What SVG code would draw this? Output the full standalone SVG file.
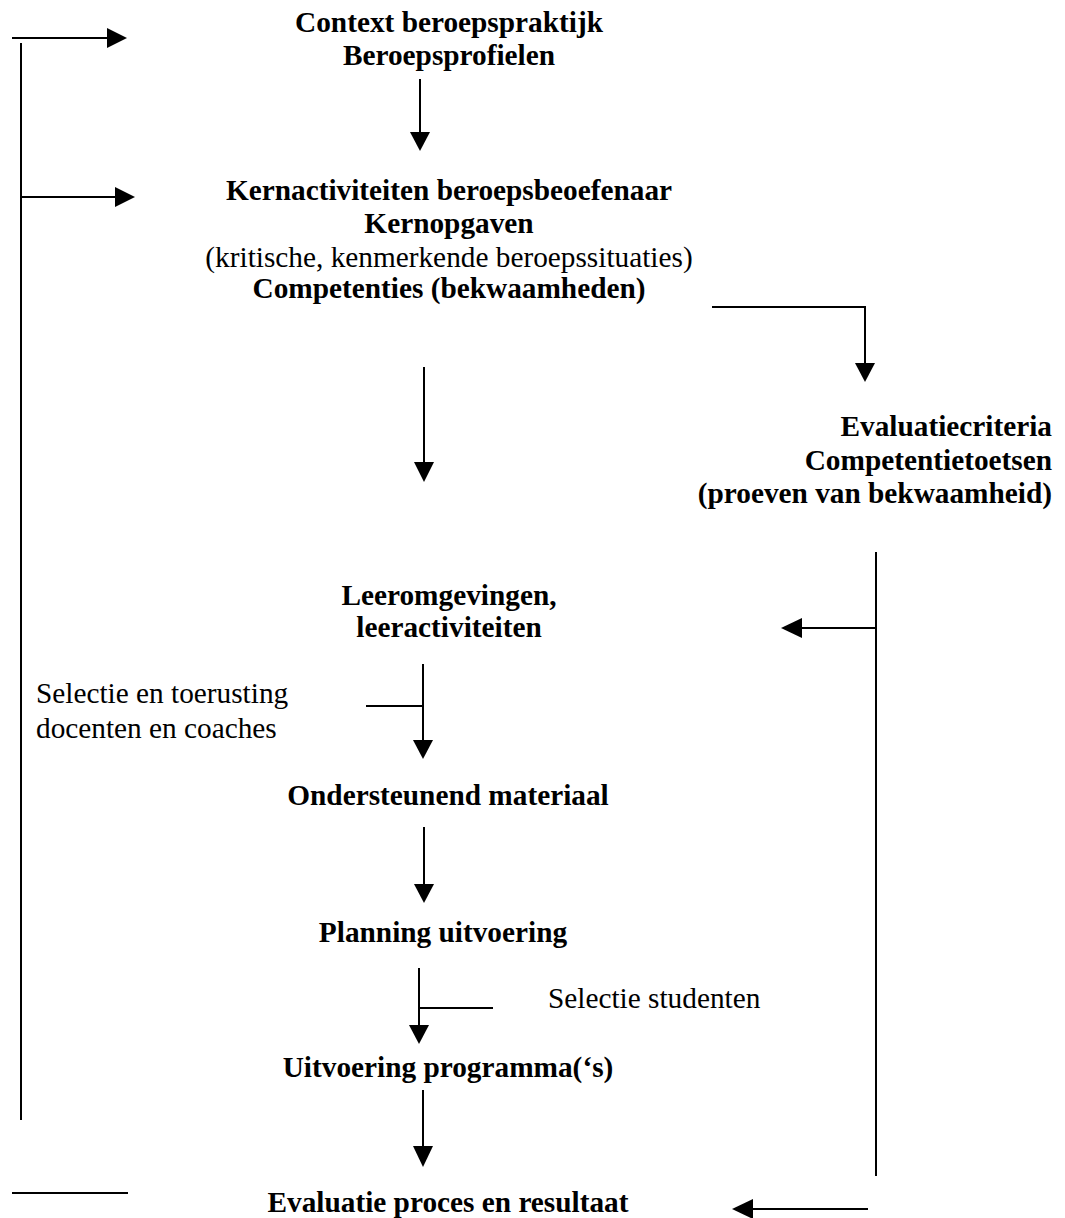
<svg xmlns="http://www.w3.org/2000/svg" width="1065" height="1218" viewBox="0 0 1065 1218">
<style>
.b{font-family:"Liberation Serif","Times New Roman",serif;font-size:29.3px;font-weight:bold;fill:#000}
.r{font-family:"Liberation Serif","Times New Roman",serif;font-size:29.3px;fill:#000}
.c{text-anchor:middle}
.e{text-anchor:end}
.ln{stroke:#000;stroke-width:2;fill:none}
.ah{fill:#000;stroke:none}
</style>
<rect width="1065" height="1218" fill="#fff"/>
<g id="n-context"><text class="b c" x="449" y="32">Context beroepspraktijk</text><text class="b c" x="449" y="65">Beroepsprofielen</text></g>
<g id="n-kern"><text class="b c" x="449" y="200">Kernactiviteiten beroepsbeoefenaar</text><text class="b c" x="449" y="233">Kernopgaven</text><text class="r c" x="449" y="267">(kritische, kenmerkende beroepssituaties)</text><text class="b c" x="449" y="298">Competenties (bekwaamheden)</text></g>
<g id="n-eval-criteria"><text class="b e" x="1052" y="436">Evaluatiecriteria</text><text class="b e" x="1052" y="470">Competentietoetsen</text><text class="b e" x="1052" y="503">(proeven van bekwaamheid)</text></g>
<g id="n-leer"><text class="b c" x="449" y="605">Leeromgevingen,</text><text class="b c" x="449" y="637">leeractiviteiten</text></g>
<g id="n-selectie-docenten"><text class="r" x="36" y="703">Selectie en toerusting</text><text class="r" x="36" y="738">docenten en coaches</text></g>
<g id="n-ondersteunend"><text class="b c" x="448" y="805">Ondersteunend materiaal</text></g>
<g id="n-planning"><text class="b c" x="443" y="942">Planning uitvoering</text></g>
<g id="n-selectie-studenten"><text class="r" x="548" y="1008">Selectie studenten</text></g>
<g id="n-uitvoering"><text class="b c" x="448" y="1077">Uitvoering programma(‘s)</text></g>
<g id="n-evaluatie"><text class="b c" x="448" y="1212">Evaluatie proces en resultaat</text></g>
<g id="connectors">
<path class="ln" d="M12 38H108"/><path class="ah" d="M127 38L107 28V48Z"/>
<path class="ln" d="M21 43V1120"/>
<path class="ln" d="M21 197H116"/><path class="ah" d="M135 197L115 187V207Z"/>
<path class="ln" d="M420 79V133"/><path class="ah" d="M420 151L410 132H430Z"/>
<path class="ln" d="M712 307H865V364"/><path class="ah" d="M865 382L855 363H875Z"/>
<path class="ln" d="M424 367V463"/><path class="ah" d="M424 482L414 462H434Z"/>
<path class="ln" d="M876 552V1176"/>
<path class="ln" d="M876 628H800"/><path class="ah" d="M781 628L802 618V638Z"/>
<path class="ln" d="M423 664V741"/><path class="ah" d="M423 759L413 740H433Z"/>
<path class="ln" d="M366 706H423"/>
<path class="ln" d="M424 827V885"/><path class="ah" d="M424 903L414 884H434Z"/>
<path class="ln" d="M419 968V1026"/><path class="ah" d="M419 1044L409 1025H429Z"/>
<path class="ln" d="M419 1008H493"/>
<path class="ln" d="M423 1090V1147"/><path class="ah" d="M423 1167L413 1146H433Z"/>
<path class="ln" d="M12 1193H128"/>
<path class="ln" d="M868 1209H752"/><path class="ah" d="M732 1209L753 1199V1219Z"/>
</g>
</svg>
